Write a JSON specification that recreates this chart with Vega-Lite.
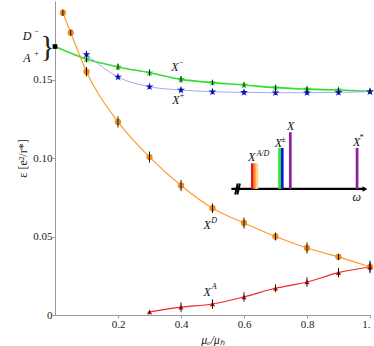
{
  "$schema": "https://vega.github.io/schema/vega-lite/v6.json",
  "width": 315,
  "height": 314,
  "autosize": {"type": "none"},
  "padding": {"left": 55, "top": 1, "right": 4, "bottom": 31},
  "config": {
    "view": {"stroke": null},
    "font": "Liberation Serif",
    "axis": {
      "grid": false,
      "domainColor": "#999999",
      "tickColor": "#999999",
      "tickSize": 3,
      "labelPadding": 0,
      "labelFont": "Liberation Serif",
      "labelFontSize": 11,
      "labelColor": "#222222",
      "titleFont": "Liberation Serif",
      "titleFontWeight": "normal",
      "titleColor": "#222222"
    }
  },
  "datasets": {
    "pts": [
      {"series": "XD", "mu": 0.025, "eps": 0.1925, "err": 0.002},
      {"series": "XD", "mu": 0.05, "eps": 0.1798, "err": 0.002},
      {"series": "XD", "mu": 0.1, "eps": 0.1550, "err": 0.003},
      {"series": "XD", "mu": 0.2, "eps": 0.1230, "err": 0.0035},
      {"series": "XD", "mu": 0.3, "eps": 0.1006, "err": 0.0035},
      {"series": "XD", "mu": 0.4, "eps": 0.0825, "err": 0.0035},
      {"series": "XD", "mu": 0.5, "eps": 0.0680, "err": 0.003},
      {"series": "XD", "mu": 0.6, "eps": 0.0586, "err": 0.0035},
      {"series": "XD", "mu": 0.7, "eps": 0.0500, "err": 0.0025},
      {"series": "XD", "mu": 0.8, "eps": 0.0427, "err": 0.0035},
      {"series": "XD", "mu": 0.9, "eps": 0.0370, "err": 0.002},
      {"series": "XD", "mu": 1.0, "eps": 0.0306, "err": 0.004},
      {"series": "XA", "mu": 0.3, "eps": 0.0020, "err": 0.001},
      {"series": "XA", "mu": 0.4, "eps": 0.0050, "err": 0.003},
      {"series": "XA", "mu": 0.5, "eps": 0.0070, "err": 0.003},
      {"series": "XA", "mu": 0.6, "eps": 0.0115, "err": 0.003},
      {"series": "XA", "mu": 0.7, "eps": 0.0170, "err": 0.0025},
      {"series": "XA", "mu": 0.8, "eps": 0.0210, "err": 0.003},
      {"series": "XA", "mu": 0.9, "eps": 0.0270, "err": 0.003},
      {"series": "XA", "mu": 1.0, "eps": 0.0306, "err": 0.003},
      {"series": "origin", "mu": 0.0, "eps": 0.1710, "err": 0},
      {"series": "Xm", "mu": 0.1, "eps": 0.1630, "err": 0.002},
      {"series": "Xm", "mu": 0.2, "eps": 0.1580, "err": 0.002},
      {"series": "Xm", "mu": 0.3, "eps": 0.1543, "err": 0.002},
      {"series": "Xm", "mu": 0.4, "eps": 0.1501, "err": 0.002},
      {"series": "Xm", "mu": 0.5, "eps": 0.1480, "err": 0.0015},
      {"series": "Xm", "mu": 0.6, "eps": 0.1465, "err": 0.0015},
      {"series": "Xm", "mu": 0.7, "eps": 0.1448, "err": 0.0015},
      {"series": "Xm", "mu": 0.8, "eps": 0.1439, "err": 0.0015},
      {"series": "Xm", "mu": 0.9, "eps": 0.1433, "err": 0.0015},
      {"series": "Xm", "mu": 1.0, "eps": 0.1425, "err": 0.0015},
      {"series": "Xp", "mu": 0.1, "eps": 0.1660, "err": 0.002},
      {"series": "Xp", "mu": 0.2, "eps": 0.1516, "err": 0.0015},
      {"series": "Xp", "mu": 0.3, "eps": 0.1454, "err": 0.0015},
      {"series": "Xp", "mu": 0.4, "eps": 0.1433, "err": 0.0015},
      {"series": "Xp", "mu": 0.5, "eps": 0.1422, "err": 0.0015},
      {"series": "Xp", "mu": 0.6, "eps": 0.1418, "err": 0.0015},
      {"series": "Xp", "mu": 0.7, "eps": 0.1416, "err": 0.0015},
      {"series": "Xp", "mu": 0.8, "eps": 0.1416, "err": 0.0015},
      {"series": "Xp", "mu": 0.9, "eps": 0.1418, "err": 0.0015},
      {"series": "Xp", "mu": 1.0, "eps": 0.1422, "err": 0.0015}
    ],
    "labels": [
      {"t": "X", "x": 0.381, "y": 0.158},
      {"t": "X", "x": 0.384, "y": 0.1369},
      {"t": "X", "x": 0.483, "y": 0.0573},
      {"t": "X", "x": 0.483, "y": 0.0146},
      {"t": "D", "x": -0.089, "y": 0.1777},
      {"t": "A", "x": -0.089, "y": 0.1637},
      {"t": "X", "x": 0.624, "y": 0.1004},
      {"t": "X", "x": 0.709, "y": 0.1097},
      {"t": "X", "x": 0.748, "y": 0.1204},
      {"t": "X", "x": 0.958, "y": 0.1104},
      {"t": "ω", "x": 0.958, "y": 0.0752}
    ],
    "sups": [
      {"t": "−", "x": 0.401, "y": 0.1605},
      {"t": "+", "x": 0.403, "y": 0.1395},
      {"t": "D", "x": 0.505, "y": 0.0599},
      {"t": "A", "x": 0.505, "y": 0.0178},
      {"t": "−", "x": -0.059, "y": 0.1800},
      {"t": "+", "x": -0.059, "y": 0.1665},
      {"t": "A/D", "x": 0.660, "y": 0.1027},
      {"t": "±", "x": 0.725, "y": 0.1112},
      {"t": "*", "x": 0.972, "y": 0.1125}
    ],
    "brace": [
      {"t": "}", "x": -0.024, "y": 0.1707}
    ],
    "bars": [
      {"series": "XA", "x": 0.6265, "base": 0.0803, "top": 0.0966},
      {"series": "XD", "x": 0.6350, "base": 0.0803, "top": 0.0966},
      {"series": "XDl", "x": 0.6410, "base": 0.0803, "top": 0.0966},
      {"series": "Xm", "x": 0.7130, "base": 0.0803, "top": 0.1064},
      {"series": "Xp", "x": 0.7215, "base": 0.0803, "top": 0.1064},
      {"series": "X", "x": 0.7470, "base": 0.0803, "top": 0.1164},
      {"series": "Xs", "x": 0.9590, "base": 0.0803, "top": 0.1064}
    ],
    "axisline": [
      {"x0": 0.560, "x1": 0.980, "y": 0.0803}
    ],
    "breaks": [
      {"x0": 0.572, "x1": 0.580, "y0": 0.0768, "y1": 0.0838},
      {"x0": 0.579, "x1": 0.587, "y0": 0.0768, "y1": 0.0838}
    ],
    "arrow": [
      {"x": 0.984, "y": 0.0803}
    ]
  },
  "layer": [
    {
      "data": {"name": "pts"},
      "transform": [{"filter": "datum.series == 'Xm' || datum.series == 'origin'"}],
      "mark": {"type": "line", "color": "#33DD33", "strokeWidth": 1.6, "interpolate": "monotone"},
      "encoding": {
        "x": {"field": "mu", "type": "quantitative", "scale": {"domain": [0, 1], "nice": false},
          "axis": {"values": [0.2, 0.4, 0.6, 0.8, 1], "labelExpr": "datum.value == 1 ? '1.' : format(datum.value, '.1f')", "title": "μₑ/μₕ", "titleFontSize": 12, "titleFontStyle": "italic", "titlePadding": 5}},
        "y": {"field": "eps", "type": "quantitative", "scale": {"domain": [0, 0.2], "nice": false},
          "axis": {"values": [0, 0.05, 0.1, 0.15], "labelExpr": "datum.value == 0 ? '0' : format(datum.value, '.2f')", "title": "ε [e²/r*]", "titleFontSize": 12, "titlePadding": 3}}
      }
    },
    {
      "data": {"name": "pts"},
      "transform": [{"filter": "datum.series == 'Xp'"}],
      "mark": {"type": "line", "color": "#A8A8F0", "strokeWidth": 1, "interpolate": "monotone"},
      "encoding": {
        "x": {"field": "mu", "type": "quantitative"},
        "y": {"field": "eps", "type": "quantitative"}
      }
    },
    {
      "data": {"name": "pts"},
      "transform": [{"filter": "datum.series == 'XD'"}],
      "mark": {"type": "line", "color": "#FF9A2E", "strokeWidth": 1.2, "interpolate": "monotone"},
      "encoding": {
        "x": {"field": "mu", "type": "quantitative"},
        "y": {"field": "eps", "type": "quantitative"}
      }
    },
    {
      "data": {"name": "pts"},
      "transform": [{"filter": "datum.series == 'XA'"}],
      "mark": {"type": "line", "color": "#F02828", "strokeWidth": 1.1, "interpolate": "monotone"},
      "encoding": {
        "x": {"field": "mu", "type": "quantitative"},
        "y": {"field": "eps", "type": "quantitative"}
      }
    },
    {
      "data": {"name": "pts"},
      "transform": [{"filter": "datum.series == 'XD'"}],
      "mark": {"type": "point", "shape": "circle", "filled": true, "color": "#F08A1C", "size": 40, "opacity": 1},
      "encoding": {
        "x": {"field": "mu", "type": "quantitative"},
        "y": {"field": "eps", "type": "quantitative"}
      }
    },
    {
      "data": {"name": "pts"},
      "transform": [{"filter": "datum.series == 'XA'"}],
      "mark": {"type": "point", "shape": "triangle-up", "filled": true, "color": "#D01010", "size": 28, "opacity": 1},
      "encoding": {
        "x": {"field": "mu", "type": "quantitative"},
        "y": {"field": "eps", "type": "quantitative"}
      }
    },
    {
      "data": {"name": "pts"},
      "transform": [{"filter": "datum.series == 'Xm'"}],
      "mark": {"type": "point", "shape": "M0,-1L0.22,-0.3L0.95,-0.3L0.36,0.12L0.59,0.81L0,0.38L-0.59,0.81L-0.36,0.12L-0.95,-0.3L-0.22,-0.3Z", "filled": true, "color": "#2ECC2E", "size": 70, "opacity": 1},
      "encoding": {
        "x": {"field": "mu", "type": "quantitative"},
        "y": {"field": "eps", "type": "quantitative"}
      }
    },
    {
      "data": {"name": "pts"},
      "transform": [{"filter": "datum.series == 'Xp'"}],
      "mark": {"type": "point", "shape": "M0,-1L0.22,-0.3L0.95,-0.3L0.36,0.12L0.59,0.81L0,0.38L-0.59,0.81L-0.36,0.12L-0.95,-0.3L-0.22,-0.3Z", "filled": true, "color": "#1515F0", "size": 70, "opacity": 1},
      "encoding": {
        "x": {"field": "mu", "type": "quantitative"},
        "y": {"field": "eps", "type": "quantitative"}
      }
    },
    {
      "data": {"name": "pts"},
      "transform": [{"filter": "datum.series != 'origin'"}],
      "mark": {"type": "errorbar", "color": "#111111", "thickness": 1},
      "encoding": {
        "x": {"field": "mu", "type": "quantitative"},
        "y": {"field": "eps", "type": "quantitative", "title": "ε [e²/r*]"},
        "yError": {"field": "err"}
      }
    },
    {
      "data": {"name": "pts"},
      "transform": [{"filter": "datum.series == 'origin'"}],
      "mark": {"type": "point", "shape": "square", "filled": true, "color": "#000000", "size": 22, "opacity": 1, "clip": false},
      "encoding": {
        "x": {"field": "mu", "type": "quantitative"},
        "y": {"field": "eps", "type": "quantitative"}
      }
    },
    {
      "data": {"name": "axisline"},
      "mark": {"type": "rule", "color": "#000000", "strokeWidth": 2.2},
      "encoding": {
        "x": {"field": "x0", "type": "quantitative"},
        "x2": {"field": "x1"},
        "y": {"field": "y", "type": "quantitative"}
      }
    },
    {
      "data": {"name": "breaks"},
      "mark": {"type": "rule", "color": "#000000", "strokeWidth": 2},
      "encoding": {
        "x": {"field": "x0", "type": "quantitative"},
        "x2": {"field": "x1"},
        "y": {"field": "y0", "type": "quantitative"},
        "y2": {"field": "y1"}
      }
    },
    {
      "data": {"name": "arrow"},
      "mark": {"type": "point", "shape": "triangle-right", "filled": true, "color": "#000000", "size": 30, "opacity": 1},
      "encoding": {
        "x": {"field": "x", "type": "quantitative"},
        "y": {"field": "y", "type": "quantitative"}
      }
    },
    {
      "data": {"name": "bars"},
      "mark": {"type": "rule", "strokeWidth": 2.7},
      "encoding": {
        "x": {"field": "x", "type": "quantitative"},
        "y": {"field": "base", "type": "quantitative"},
        "y2": {"field": "top"},
        "color": {"field": "series", "type": "nominal", "legend": null,
          "scale": {"domain": ["XA", "XD", "XDl", "Xm", "Xp", "X", "Xs"], "range": ["#E81818", "#FF8C1A", "#FFD090", "#22EE22", "#1010EE", "#8B1F9E", "#8B1F9E"]}}
      }
    },
    {
      "data": {"name": "labels"},
      "mark": {"type": "text", "font": "Liberation Serif", "fontStyle": "italic", "fontSize": 12, "color": "#111111", "baseline": "middle", "align": "center"},
      "encoding": {
        "x": {"field": "x", "type": "quantitative"},
        "y": {"field": "y", "type": "quantitative"},
        "text": {"field": "t"}
      }
    },
    {
      "data": {"name": "sups"},
      "mark": {"type": "text", "font": "Liberation Serif", "fontStyle": "italic", "fontSize": 8, "color": "#111111", "baseline": "middle", "align": "center"},
      "encoding": {
        "x": {"field": "x", "type": "quantitative"},
        "y": {"field": "y", "type": "quantitative"},
        "text": {"field": "t"}
      }
    },
    {
      "data": {"name": "brace"},
      "mark": {"type": "text", "font": "Liberation Serif", "fontSize": 30, "fontWeight": "normal", "color": "#222222", "baseline": "middle", "align": "center"},
      "encoding": {
        "x": {"field": "x", "type": "quantitative"},
        "y": {"field": "y", "type": "quantitative"},
        "text": {"field": "t"}
      }
    }
  ]
}
